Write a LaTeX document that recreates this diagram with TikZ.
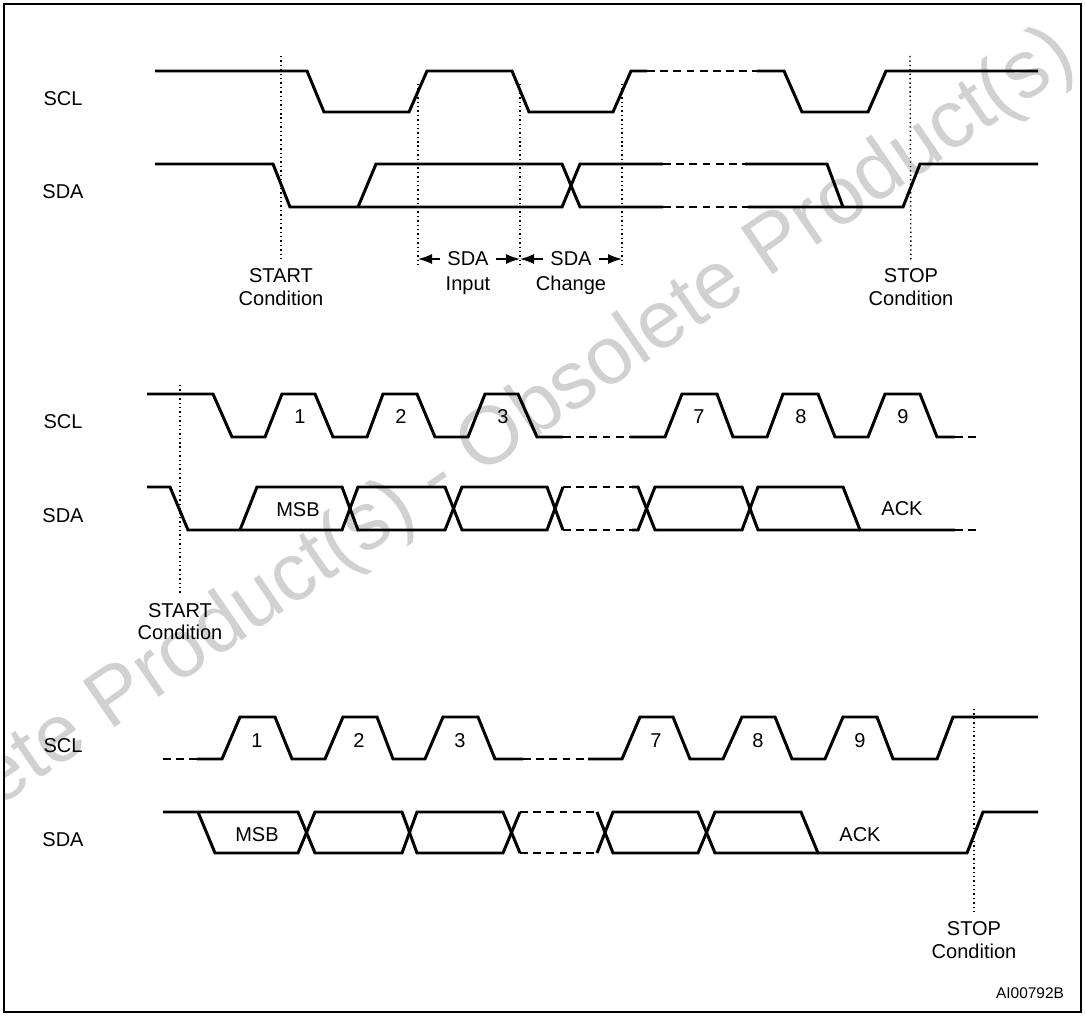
\documentclass[tikz,border=0pt]{standalone}
\usepackage{fontspec}
\setmainfont{Liberation Sans}
\usetikzlibrary{arrows.meta}

\begin{document}
\begin{tikzpicture}[x=0.02cm,y=-0.02cm,
  wave/.style={line width=1.7pt},
  gap/.style={line width=1.7pt,dash pattern=on 4.5pt off 3pt},
  guide/.style={line width=0.8pt,dash pattern=on 0.8pt off 1.7pt},
  lbl/.style={font=\fontsize{11.4}{13}\selectfont,anchor=base,inner sep=1pt},
  tag/.style={lbl,inner sep=0.15cm},
  span/.style={-{Latex[length=2.8mm,width=2mm]},line width=0.8pt}]
\useasboundingbox (0,0) rectangle (1085,1016);
% watermark
\begin{scope}
\clip (4,4) rectangle (1081,1012);
\node[text=black!18,rotate=34.5,font=\fontsize{46.5}{50}\selectfont] (wm) at (438,480) {Obsolete Product(s) - Obsolete Product(s)};
\end{scope}
\draw[line width=1.1pt] (4,4) rectangle (1081,1012);

% --- START / STOP with SDA input and change windows
\node[lbl] (sclA) at (63,106) {SCL};
\node[lbl] (sdaA) at (63,199) {SDA};
\draw[wave] (155,71) -- (307,71) -- (324,112) -- (409,112) -- (427,71) -- (512,71) -- (529,112) -- (613,112) -- (631,71) -- (647,71);
\draw[gap] (647,71) -- (757,71);
\draw[wave] (757,71) -- (784,71) -- (802,112) -- (868,112) -- (886,71) -- (1038,71);
\draw[wave] (155,164) -- (273,164) -- (290,207) -- (562,207) -- (580,164) -- (663,164);
\draw[wave] (358,207) -- (376,164) -- (562,164) -- (580,207) -- (663,207);
\draw[gap] (663,164) -- (745,164) (663,207) -- (748,207);
\draw[wave] (745,164) -- (827,164) -- (843,207) (748,207) -- (903,207) -- (920,164) -- (1038,164);
\node[tag] (startA) at (281,283) {START};
\node[lbl] (startAc) at (281,306) {Condition};
\node[tag] (stopA) at (911,283) {STOP};
\node[lbl] (stopAc) at (911,306) {Condition};
\coordinate (startAtop) at (281,56);
\coordinate (stopAtop) at (910,56);
\draw[guide] (startAtop) -- (startA);
\draw[guide] (stopAtop) -- (stopA);
\coordinate (inTop) at (418,84);
\coordinate (midTop) at (520,84);
\coordinate (outTop) at (622,84);
\coordinate (inEnd) at (418,259);
\coordinate (midEnd) at (520,259);
\coordinate (outEnd) at (622,259);
\draw[guide] (inTop) -- ([yshift=-0.12cm]inEnd) (midTop) -- ([yshift=-0.12cm]midEnd) (outTop) -- ([yshift=-0.12cm]outEnd);
\node[tag] (inSDA) at (468,266) {SDA};
\node[tag] (chSDA) at (571,266) {SDA};
\node[lbl] (inTxt) at (468,291) {Input};
\node[lbl] (chTxt) at (571,291) {Change};
\draw[span] (inSDA.west |- inEnd) -- (inEnd);
\draw[span] (inSDA.east |- inEnd) -- (midEnd);
\draw[span] (chSDA.west |- inEnd) -- (midEnd);
\draw[span] (chSDA.east |- inEnd) -- (outEnd);

% --- byte after START
\node[lbl] (sclB) at (63,429) {SCL};
\node[lbl] (sdaB) at (63,522) {SDA};
\draw[wave] (147,394) -- (213,394) -- (232,437) -- (265,437) -- (282,394) -- (315,394) -- (333,437) -- (367,437) -- (383,394) -- (417,394) -- (435,437) -- (468,437) -- (485,394) -- (518,394) -- (537,437) -- (563,437);
\draw[gap] (563,437) -- (630,437);
\draw[wave] (630,437) -- (665,437) -- (682,394) -- (717,394) -- (733,437) -- (767,437) -- (783,394) -- (818,394) -- (835,437) -- (868,437) -- (885,394) -- (920,394) -- (937,437) -- (955,437);
\draw[gap] (955,437) -- (980,437);
\draw[wave] (147,487) -- (170,487) -- (188,530) -- (342,530) -- (358,487) -- (445,487) -- (462,530) -- (547,530) -- (563,487);
\draw[wave] (240,530) -- (257,487) -- (342,487) -- (358,530) -- (445,530) -- (462,487) -- (547,487) -- (563,530);
\draw[gap] (563,487) -- (632,487) (563,530) -- (632,530);
\draw[wave] (632,487) -- (638,487) -- (655,530) -- (742,530) -- (758,487) -- (843,487) -- (860,530) -- (955,530);
\draw[wave] (632,530) -- (638,530) -- (655,487) -- (742,487) -- (758,530) -- (860,530);
\draw[gap] (955,530) -- (980,530);
\node[lbl] (bB1) at (300,424) {1};
\node[lbl] (bB2) at (401,424) {2};
\node[lbl] (bB3) at (503,424) {3};
\node[lbl] (bB7) at (699,424) {7};
\node[lbl] (bB8) at (801,424) {8};
\node[lbl] (bB9) at (903,424) {9};
\node[lbl] (msbB) at (298,517) {MSB};
\node[lbl] (ackB) at (902,516) {ACK};
\node[tag] (startB) at (180,617) {START};
\node[lbl] (startBc) at (180,639) {Condition};
\coordinate (startBtop) at (180,385);
\draw[guide] (startBtop) -- (startB);

% --- last byte and STOP
\node[lbl] (sclC) at (63,752) {SCL};
\node[lbl] (sdaC) at (63,846) {SDA};
\draw[gap] (163,759) -- (197,759);
\draw[wave] (197,759) -- (222,759) -- (240,717) -- (275,717) -- (292,759) -- (325,759) -- (343,717) -- (377,717) -- (393,759) -- (425,759) -- (443,717) -- (478,717) -- (495,759) -- (523,759);
\draw[gap] (523,759) -- (588,759);
\draw[wave] (588,759) -- (622,759) -- (640,717) -- (673,717) -- (690,759) -- (723,759) -- (742,717) -- (775,717) -- (792,759) -- (825,759) -- (843,717) -- (877,717) -- (893,759) -- (937,759) -- (953,717) -- (1038,717);
\draw[wave] (163,812) -- (298,812) -- (315,853) -- (402,853) -- (417,812) -- (503,812) -- (520,853);
\draw[wave] (198,812) -- (215,853) -- (298,853) -- (315,812) -- (402,812) -- (417,853) -- (503,853) -- (520,812);
\draw[gap] (520,812) -- (597,812) (520,853) -- (597,853);
\draw[wave] (597,812) -- (613,853) -- (698,853) -- (715,812) -- (801,812) -- (818,853) -- (967,853) -- (983,812) -- (1038,812);
\draw[wave] (597,853) -- (613,812) -- (698,812) -- (715,853) -- (818,853);
\node[lbl] (bC1) at (257,747) {1};
\node[lbl] (bC2) at (359,747) {2};
\node[lbl] (bC3) at (460,747) {3};
\node[lbl] (bC7) at (656,747) {7};
\node[lbl] (bC8) at (758,747) {8};
\node[lbl] (bC9) at (860,747) {9};
\node[lbl] (msbC) at (257,841) {MSB};
\node[lbl] (ackC) at (860,841) {ACK};
\node[tag] (stopC) at (974,935) {STOP};
\node[lbl] (stopCc) at (974,958) {Condition};
\coordinate (stopCtop) at (974,709);
\draw[guide] (stopCtop) -- (stopC);
\node[lbl,font=\fontsize{8.8}{10}\selectfont] (figId) at (1030,998) {AI00792B};
\end{tikzpicture}
\end{document}
